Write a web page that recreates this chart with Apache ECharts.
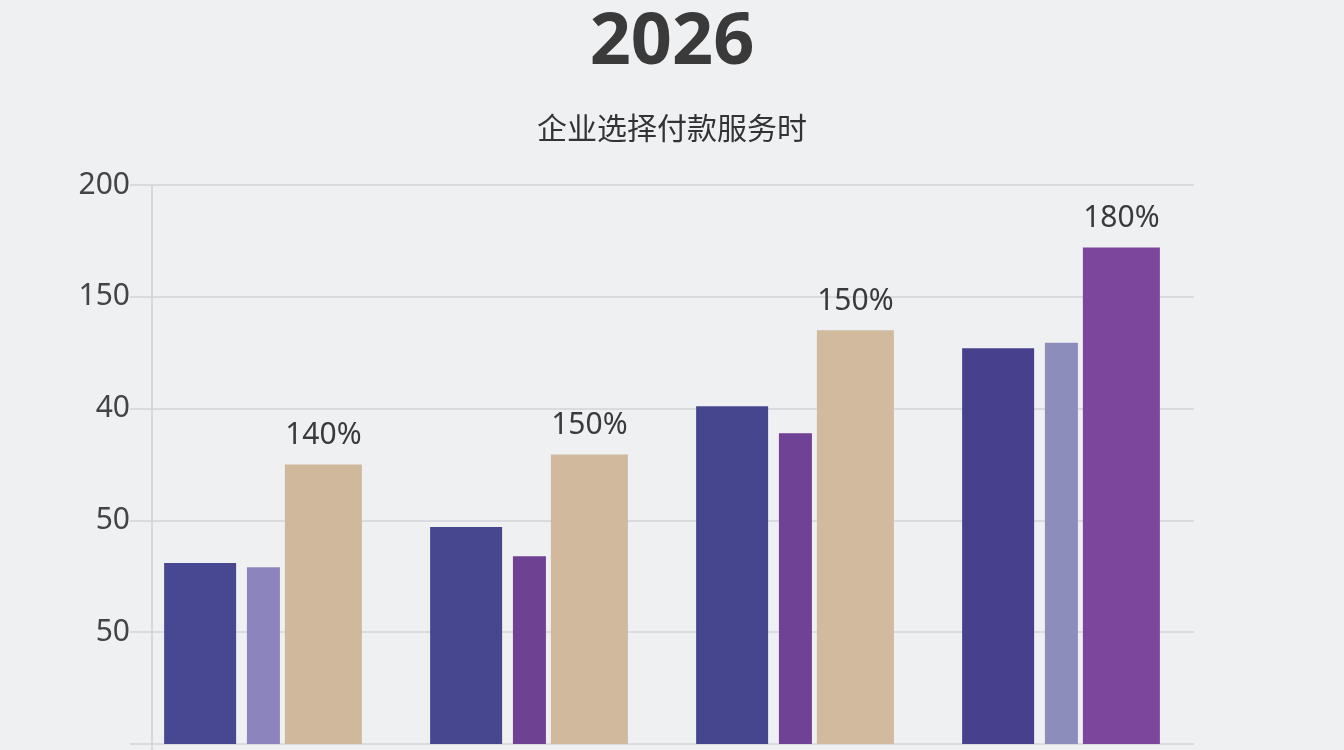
<!DOCTYPE html>
<html><head><meta charset="utf-8">
<script src="https://cdn.jsdelivr.net/npm/echarts@6/dist/echarts.min.js"></script>
<style>html,body{margin:0;background:#eff0f2}#c{width:1344px;height:750px}</style>
</head><body><div id="c"></div>
<script>
const categories = ["第一组", "第二组", "第三组", "第四组"];
const seriesA = [81, 97, 151, 177];
const seriesB = [79, 84, 139, 179.5];
const seriesC = [125, 129.5, 185, 222];
const colorsA = ["#474891", "#46478f", "#45468e", "#47408c"];
const colorsB = ["#8c84bd", "#6e4193", "#6f4295", "#8d8dbb"];
const colorsC = ["#cfb89c", "#d0b99d", "#d1ba9e", "#7b469c"];
const pctLabels = ["140%", "150%", "150%", "180%"];
const yTickLabels = ["", "50", "50", "40", "150", "200"];
const chart = echarts.init(document.getElementById('c'));
chart.setOption({
  backgroundColor: '#eff0f2',
  title: [
    {text: '2026', left: 'center', top: 2, textStyle: {fontSize: 72, fontWeight: 'bold', color: '#3a3a3a', fontFamily: 'Noto Sans'}},
    {text: '企业选择付款服务时', left: 'center', top: 108, textStyle: {fontSize: 30, fontWeight: 'normal', color: '#333', fontFamily: 'Noto Sans CJK SC'}}
  ],
  graphic: [{type: 'line', shape: {x1: 152, y1: 185, x2: 152, y2: 750}, style: {stroke: '#cfd0d4', lineWidth: 1.5}}],
  grid: {left: 130, right: 150, top: 185, bottom: 6},
  xAxis: {type: 'category', data: categories, axisLabel: {show: false}, axisTick: {show: false}, axisLine: {show: false}},
  yAxis: {type: 'value', min: 0, max: 250, interval: 50,
    axisLine: {show: false},
    splitLine: {lineStyle: {color: '#d3d4d8', width: 1.5}},
    axisLabel: {fontSize: 30, color: '#444', margin: 0, fontFamily: 'Noto Sans',
      formatter: v => yTickLabels[Math.round(v / 50)]}},
  series: [
    {type: 'bar', barWidth: 72, barGap: '15%',
      data: seriesA.map((v, i) => ({value: v, itemStyle: {color: colorsA[i]}}))},
    {type: 'bar', barWidth: 33, barGap: '15%',
      data: seriesB.map((v, i) => ({value: v, itemStyle: {color: colorsB[i]}}))},
    {type: 'bar', barWidth: 77, barGap: '15%',
      data: seriesC.map((v, i) => ({value: v, itemStyle: {color: colorsC[i]}})),
      label: {show: true, position: 'top', distance: 14, fontSize: 30, color: '#3a3a3a', fontFamily: 'Noto Sans',
        formatter: p => pctLabels[p.dataIndex]}}
  ]
});
</script></body></html>
